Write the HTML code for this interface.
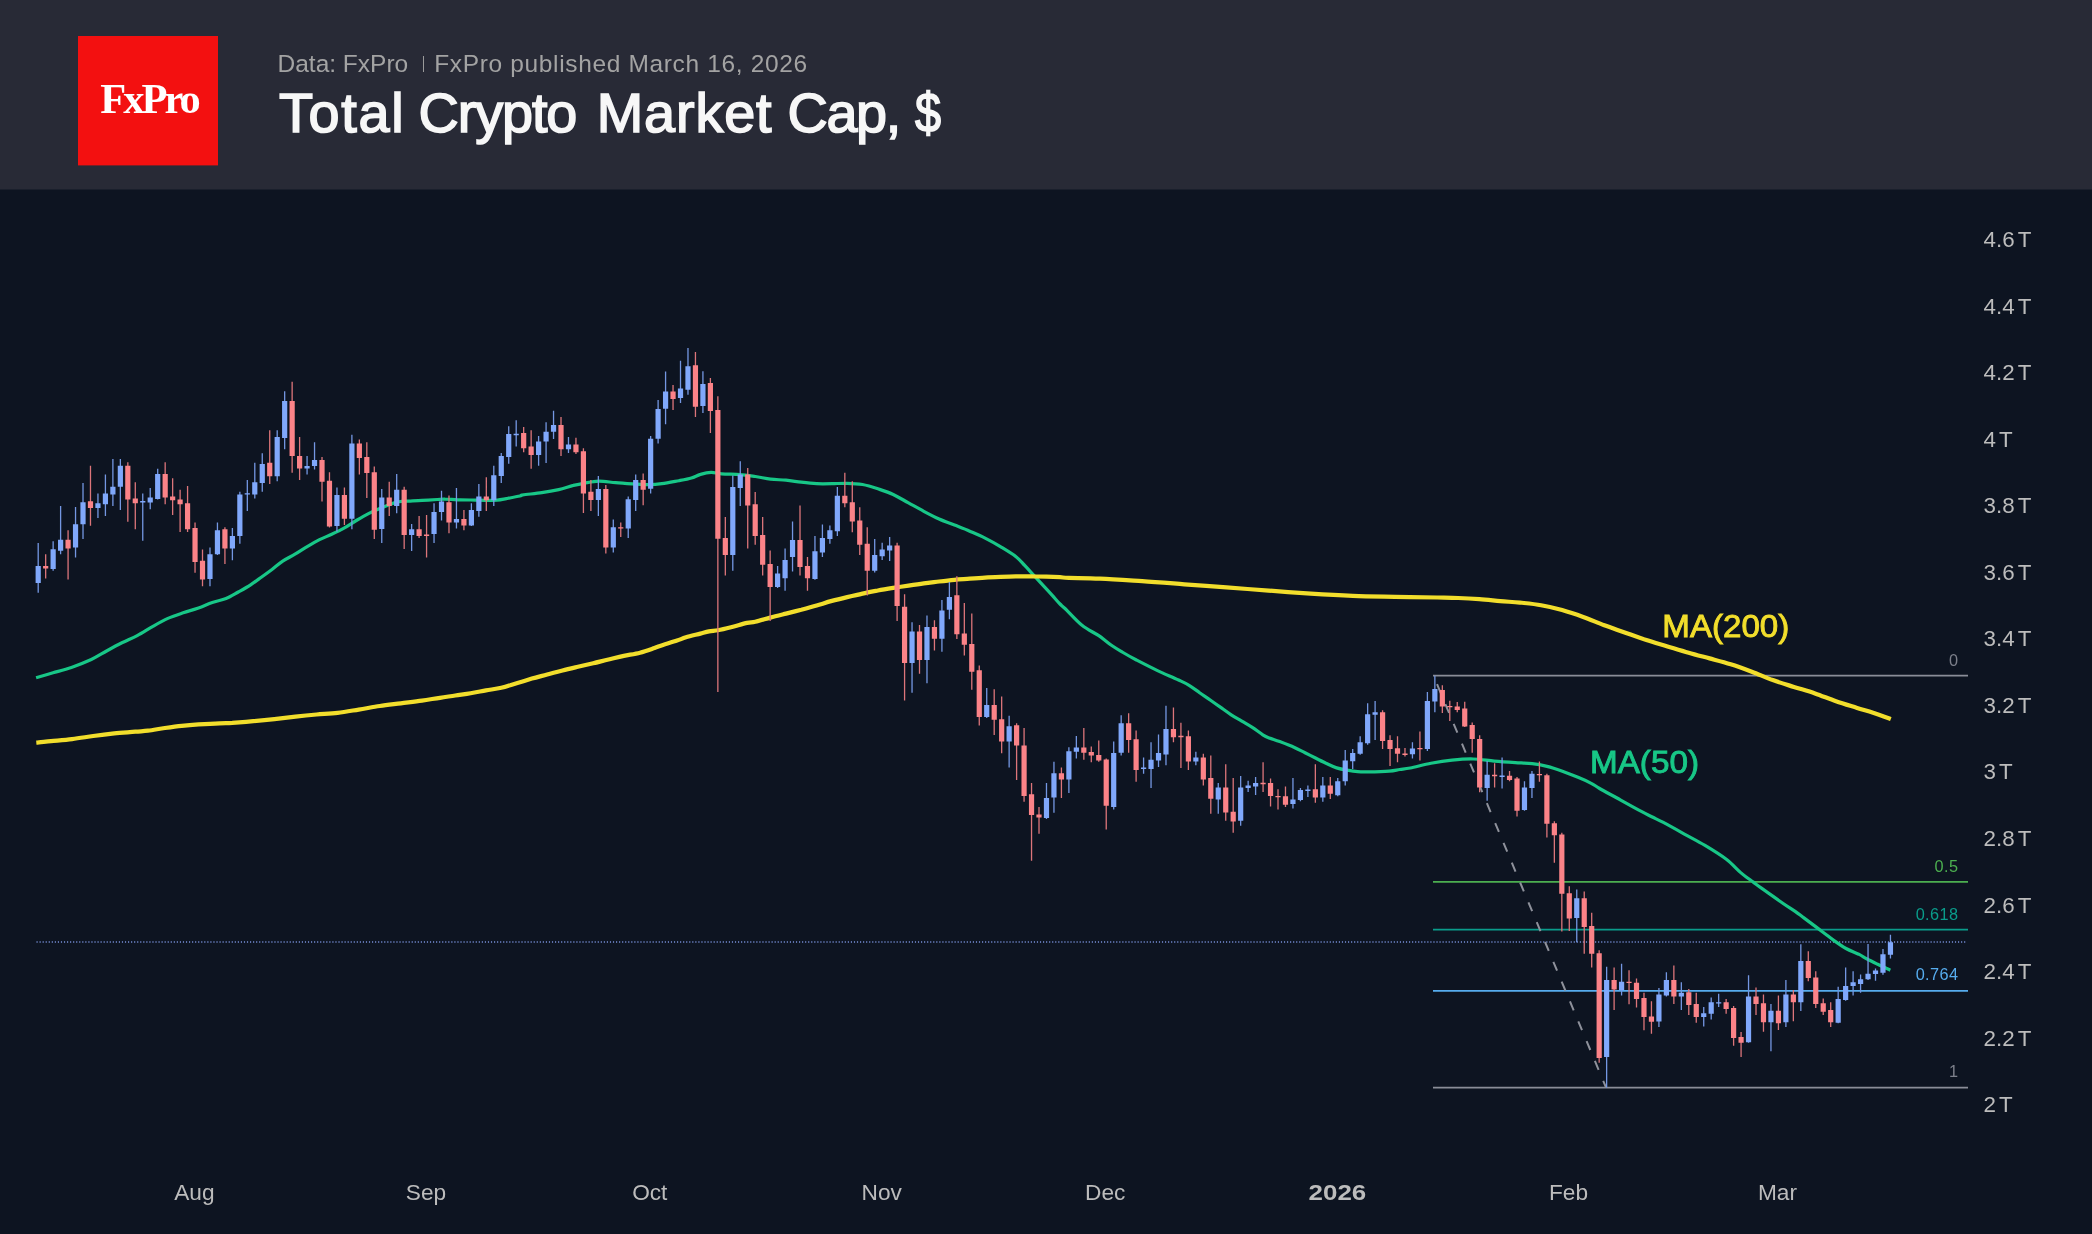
<!DOCTYPE html>
<html><head><meta charset="utf-8"><title>Total Crypto Market Cap</title>
<style>
html,body{margin:0;padding:0;}
body{width:2092px;height:1234px;background:#0d1421;overflow:hidden;position:relative;font-family:"Liberation Sans",sans-serif;}
#hdr{will-change:transform;position:absolute;left:0;top:0;width:2092px;height:189px;background:#282a36;border-bottom:1px solid #1a1f2c;}
#logo{position:absolute;left:78px;top:36px;width:140px;height:129px;background:#f31010;box-shadow:0 1px 0 rgba(243,16,16,0.4);}
#logo span{position:absolute;left:0;top:0;width:140px;text-align:center;font-family:"Liberation Serif",serif;font-weight:bold;font-size:42.5px;line-height:42px;color:#fff;top:41.7px;letter-spacing:-3px;text-indent:2px;}
#sub{position:absolute;left:277.5px;top:49.5px;font-size:24.5px;line-height:28px;color:#a3a3a3;white-space:nowrap;}
#sub i{display:inline-block;width:1px;height:16px;background:#9a9a9a;margin:0 10.5px 0 14.5px;vertical-align:0px;}
#ttl{position:absolute;left:279px;top:81px;font-size:55.8px;line-height:64px;color:#f7f7f7;white-space:nowrap;-webkit-text-stroke:1.6px #f7f7f7;}
#ttl span{position:absolute;top:0;}
svg{position:absolute;left:0;top:0;will-change:transform;}
.ax{font-family:"Liberation Sans",sans-serif;font-size:21.6px;fill:#bcbcbc;}
.fib{font-family:"Liberation Sans",sans-serif;font-size:16.3px;letter-spacing:0.4px;}
.ma{font-family:"Liberation Sans",sans-serif;font-size:31px;stroke-width:0.9px;}
</style></head>
<body>
<div id="hdr">
<div id="logo"><span>FxPro</span></div>
<div id="sub">Data: FxPro<i></i><span style="letter-spacing:0.65px">FxPro published March 16, 2026</span></div>
<div id="ttl"><span style="left:0px;letter-spacing:1.68px">Total</span><span style="left:139.5px;letter-spacing:-1.1px">Crypto</span><span style="left:317.7px;letter-spacing:0.88px">Market</span><span style="left:508.6px;letter-spacing:-1.4px">Cap,</span><span style="left:635.6px;transform:scaleX(0.84);transform-origin:0 0">$</span></div>
</div>
<svg width="2092" height="1234" viewBox="0 0 2092 1234">
<line x1="36.5" y1="942.1" x2="1966.5" y2="942.1" stroke="#5c70aa" stroke-width="2" stroke-dasharray="1.15 1.9"/>
<line x1="1433" y1="675.6" x2="1968" y2="675.6" stroke="#8a8d98" stroke-width="1.8"/>
<line x1="1433" y1="881.8" x2="1968" y2="881.8" stroke="#4caf50" stroke-width="1.8"/>
<line x1="1433" y1="929.7" x2="1968" y2="929.7" stroke="#0a9c8b" stroke-width="1.8"/>
<line x1="1433" y1="990.8" x2="1968" y2="990.8" stroke="#56acee" stroke-width="1.8"/>
<line x1="1433" y1="1087.7" x2="1968" y2="1087.7" stroke="#8a8d98" stroke-width="1.8"/>
<line x1="1433.6" y1="676" x2="1606.1" y2="1087.7" stroke="#8e919b" stroke-width="2" stroke-dasharray="9.6 11.9" stroke-dashoffset="12.6"/>
<path d="M36.1,677.8 C38.9,677.0 47.1,674.5 53.0,672.8 C58.9,671.1 65.0,669.6 71.4,667.4 C77.8,665.2 85.4,662.2 91.3,659.5 C97.2,656.8 101.5,653.8 106.6,651.0 C111.7,648.2 116.8,645.4 121.9,642.8 C127.0,640.2 132.1,638.3 137.2,635.6 C142.3,632.9 147.4,629.5 152.5,626.6 C157.6,623.7 162.8,620.7 167.9,618.4 C173.0,616.1 178.1,614.5 183.2,612.8 C188.3,611.1 193.7,609.7 198.5,608.0 C203.3,606.3 207.7,604.1 212.3,602.5 C216.9,600.9 221.7,600.4 226.0,598.6 C230.3,596.9 234.2,594.3 238.3,592.0 C242.4,589.7 246.8,587.3 250.6,584.8 C254.4,582.3 257.7,579.8 261.3,577.2 C264.9,574.7 268.4,572.2 272.0,569.5 C275.6,566.8 278.9,563.6 282.7,561.1 C286.5,558.6 290.9,556.6 295.0,554.2 C299.1,551.8 303.1,549.0 307.2,546.6 C311.3,544.2 315.4,541.8 319.5,539.7 C323.6,537.7 327.6,536.2 331.7,534.3 C335.8,532.4 339.9,530.5 344.0,528.2 C348.1,525.9 352.2,522.9 356.3,520.5 C360.4,518.1 364.7,515.6 368.5,513.6 C372.3,511.6 375.6,510.2 379.2,508.7 C382.8,507.2 386.7,505.6 390.0,504.4 C393.3,503.2 396.1,502.2 399.1,501.7 C402.2,501.1 404.5,501.3 408.3,501.1 C412.1,500.9 417.2,500.7 422.1,500.4 C427.0,500.1 433.6,499.7 437.4,499.5 C441.2,499.3 441.3,499.1 445.1,499.2 C448.9,499.2 455.3,499.6 460.4,499.8 C465.5,500.0 471.6,500.0 475.7,500.1 C479.8,500.2 481.3,500.3 484.9,500.3 C488.5,500.3 493.6,500.4 497.2,500.1 C500.8,499.8 502.6,499.3 506.4,498.6 C510.2,497.9 517.3,496.6 520.0,496.0 C522.7,495.4 519.2,495.4 522.8,494.9 C526.4,494.3 535.8,493.6 541.8,492.7 C547.8,491.8 553.4,490.8 558.7,489.6 C564.0,488.4 569.2,486.4 573.4,485.4 C577.6,484.3 579.8,484.0 584.0,483.3 C588.2,482.6 593.4,481.3 598.7,481.2 C604.0,481.1 610.0,482.2 615.6,482.6 C621.2,483.1 626.8,483.5 632.4,483.9 C638.0,484.2 644.4,484.7 649.3,484.7 C654.2,484.7 657.0,484.4 661.9,483.7 C666.8,483.0 673.9,481.6 678.8,480.7 C683.7,479.8 687.8,479.1 691.4,478.0 C695.0,476.9 697.2,475.3 700.5,474.4 C703.8,473.4 707.6,472.4 711.1,472.3 C714.6,472.2 716.8,473.4 721.6,473.8 C726.4,474.2 734.4,474.2 740.0,474.6 C745.6,475.1 750.2,475.8 755.3,476.5 C760.4,477.2 765.5,478.5 770.6,479.1 C775.7,479.7 780.9,479.7 786.0,480.2 C791.1,480.7 796.2,481.6 801.3,482.2 C806.4,482.8 811.5,483.4 816.6,483.7 C821.7,483.9 826.8,483.8 831.9,483.7 C837.0,483.6 842.1,483.2 847.2,483.3 C852.3,483.4 857.4,483.6 862.5,484.5 C867.6,485.4 872.8,487.1 877.9,488.8 C883.0,490.5 888.1,492.1 893.2,494.5 C898.3,496.9 903.4,500.1 908.5,502.9 C913.6,505.7 918.7,508.6 923.8,511.3 C928.9,514.0 934.0,516.7 939.1,519.0 C944.2,521.3 949.4,523.1 954.5,525.1 C959.6,527.1 964.7,529.0 969.8,531.2 C974.9,533.4 980.0,535.5 985.1,538.1 C990.2,540.7 995.3,543.5 1000.4,546.6 C1005.5,549.7 1011.6,553.3 1015.7,556.5 C1019.8,559.7 1021.8,562.5 1024.9,565.7 C1028.0,568.9 1031.0,572.4 1034.1,575.7 C1037.2,579.0 1040.2,582.3 1043.3,585.6 C1046.4,588.9 1049.7,592.5 1052.5,595.6 C1055.3,598.7 1057.9,601.9 1060.0,604.0 C1062.1,606.1 1061.3,605.0 1065.0,608.5 C1068.7,612.0 1076.4,620.8 1082.0,625.3 C1087.6,629.8 1093.9,632.4 1098.8,635.7 C1103.7,639.0 1107.4,642.5 1111.4,645.3 C1115.4,648.1 1118.8,650.0 1123.0,652.5 C1127.2,655.0 1130.7,657.0 1136.4,660.0 C1142.2,663.0 1150.5,667.3 1157.5,670.6 C1164.5,673.9 1173.3,677.5 1178.6,680.0 C1183.9,682.5 1185.6,683.2 1189.1,685.3 C1192.6,687.4 1196.1,690.2 1199.6,692.7 C1203.1,695.2 1206.7,697.5 1210.2,700.0 C1213.7,702.5 1217.2,704.9 1220.7,707.4 C1224.2,709.9 1227.7,712.5 1231.2,714.8 C1234.7,717.1 1238.3,719.0 1241.8,721.1 C1245.3,723.2 1248.8,725.1 1252.3,727.4 C1255.8,729.7 1260.0,733.0 1262.8,734.8 C1265.6,736.6 1266.4,736.9 1269.2,738.0 C1272.0,739.1 1275.5,740.0 1279.7,741.6 C1283.9,743.2 1290.2,745.6 1294.4,747.5 C1298.6,749.4 1301.5,751.0 1305.0,752.7 C1308.5,754.5 1312.0,756.2 1315.5,758.0 C1319.0,759.8 1322.5,761.6 1326.0,763.3 C1329.5,764.9 1333.1,766.8 1336.6,767.9 C1340.1,769.0 1343.6,769.6 1347.1,770.2 C1350.6,770.8 1354.2,771.4 1357.7,771.7 C1361.2,772.0 1362.9,772.0 1368.2,771.9 C1373.5,771.8 1384.0,771.5 1389.3,771.1 C1394.6,770.7 1396.3,770.0 1399.8,769.5 C1403.3,769.0 1405.1,769.0 1410.3,768.0 C1415.5,767.0 1424.0,764.5 1431.0,763.2 C1438.0,761.9 1445.0,760.8 1452.0,760.1 C1459.0,759.4 1466.2,758.8 1473.2,759.0 C1480.2,759.2 1487.3,760.5 1494.3,761.1 C1501.3,761.7 1509.1,762.2 1515.4,762.6 C1521.7,763.0 1526.9,763.1 1532.2,763.7 C1537.5,764.3 1542.1,765.2 1547.0,766.4 C1551.9,767.6 1556.4,769.1 1561.7,771.0 C1567.0,772.9 1573.7,775.6 1578.6,777.6 C1583.5,779.6 1587.7,781.5 1591.2,783.3 C1594.7,785.1 1594.7,785.7 1599.6,788.5 C1604.5,791.3 1613.7,796.2 1620.7,800.1 C1627.7,804.0 1636.5,808.9 1641.8,811.7 C1647.1,814.5 1648.8,815.2 1652.3,817.0 C1655.8,818.8 1657.5,819.4 1662.8,822.2 C1668.1,825.0 1676.9,829.9 1683.9,833.8 C1690.9,837.7 1698.0,841.2 1705.0,845.4 C1712.0,849.6 1720.0,854.5 1726.0,859.0 C1732.0,863.5 1736.2,868.8 1740.7,872.6 C1745.2,876.5 1749.8,879.5 1753.3,882.1 C1756.8,884.7 1756.9,884.9 1761.8,888.4 C1766.7,891.9 1777.2,899.3 1782.8,903.2 C1788.4,907.1 1792.0,909.2 1795.5,911.6 C1799.0,914.0 1800.4,915.3 1803.9,917.9 C1807.4,920.5 1813.1,924.8 1816.6,927.4 C1820.1,930.0 1822.2,931.6 1825.0,933.7 C1827.8,935.8 1829.9,937.6 1833.4,940.1 C1836.9,942.6 1841.8,946.1 1846.0,948.5 C1850.2,950.9 1855.2,952.5 1858.7,954.2 C1862.2,956.0 1863.9,957.3 1867.1,959.0 C1870.3,960.7 1873.8,962.4 1877.7,964.3 C1881.6,966.2 1888.2,969.2 1890.3,970.2" fill="none" stroke="#18c787" stroke-width="3.2" stroke-linejoin="round" stroke-linecap="butt"/>
<path d="M36.3,742.7 C38.8,742.5 45.0,741.8 51.0,741.2 C57.0,740.6 65.1,740.0 72.1,739.1 C79.1,738.2 86.2,737.0 93.2,736.0 C100.2,735.0 107.3,734.1 114.3,733.4 C121.3,732.7 129.8,732.2 135.4,731.7 C141.0,731.2 143.1,731.3 148.0,730.7 C152.9,730.1 159.3,728.8 164.9,728.0 C170.5,727.2 176.1,726.4 181.7,725.8 C187.3,725.2 192.3,724.8 198.6,724.4 C204.9,724.0 214.0,723.5 219.6,723.3 C225.2,723.0 226.7,723.2 232.3,722.9 C237.9,722.5 246.3,721.8 253.3,721.2 C260.3,720.6 267.4,719.9 274.4,719.1 C281.4,718.3 288.5,717.4 295.5,716.6 C302.5,715.8 309.6,715.1 316.6,714.5 C323.6,713.9 330.6,713.6 337.6,712.8 C344.6,712.0 351.7,710.7 358.7,709.6 C365.7,708.5 372.8,707.0 379.8,706.0 C386.8,705.0 393.8,704.2 400.8,703.3 C407.8,702.4 415.4,701.5 421.9,700.6 C428.4,699.7 434.4,698.6 440.0,697.8 C445.6,696.9 450.2,696.3 455.3,695.5 C460.4,694.7 465.5,694.1 470.6,693.2 C475.7,692.4 480.9,691.3 486.0,690.4 C491.1,689.5 496.2,689.0 501.3,687.8 C506.4,686.6 511.5,684.7 516.6,683.2 C521.7,681.7 526.8,680.1 531.9,678.6 C537.0,677.1 542.1,675.9 547.2,674.5 C552.3,673.1 557.4,671.8 562.5,670.5 C567.6,669.2 572.8,668.0 577.9,666.8 C583.0,665.6 588.1,664.5 593.2,663.3 C598.3,662.1 603.4,660.7 608.5,659.5 C613.6,658.3 618.5,657.0 623.8,655.9 C629.0,654.8 634.9,654.0 640.0,652.7 C645.1,651.4 650.7,649.3 654.5,648.0 C658.3,646.7 659.2,646.1 663.0,644.9 C666.8,643.7 673.2,641.9 677.0,640.6 C680.8,639.3 682.1,638.5 686.0,637.3 C689.9,636.1 696.6,634.6 700.4,633.6 C704.2,632.6 706.1,632.0 709.0,631.4 C711.9,630.8 714.3,630.9 718.0,630.2 C721.7,629.5 726.2,628.4 731.0,627.2 C735.8,626.0 743.0,623.8 747.0,622.9 C751.0,622.0 751.4,622.7 755.3,621.8 C759.2,620.9 765.2,619.0 770.3,617.6 C775.4,616.2 780.8,614.9 786.0,613.6 C791.2,612.3 796.2,611.1 801.3,609.8 C806.4,608.4 811.5,607.0 816.6,605.5 C821.7,604.0 826.8,602.3 831.9,600.9 C837.0,599.5 842.1,598.3 847.2,597.1 C852.3,595.9 857.4,594.7 862.5,593.6 C867.6,592.5 872.8,591.5 877.9,590.5 C883.0,589.5 888.1,588.7 893.2,587.9 C898.3,587.1 903.4,586.4 908.5,585.6 C913.6,584.8 918.7,584.0 923.8,583.3 C928.9,582.6 934.0,582.1 939.1,581.5 C944.2,580.9 949.4,580.3 954.5,579.8 C959.6,579.3 964.7,579.1 969.8,578.7 C974.9,578.3 980.0,577.9 985.1,577.6 C990.2,577.3 995.3,577.1 1000.4,576.9 C1005.5,576.7 1010.6,576.5 1015.7,576.4 C1020.8,576.3 1026.0,576.3 1031.1,576.4 C1036.2,576.5 1041.6,576.6 1046.4,576.7 C1051.2,576.8 1056.2,577.0 1060.0,577.2 C1063.8,577.4 1062.3,577.7 1069.0,577.9 C1075.7,578.1 1087.8,578.1 1100.0,578.6 C1112.2,579.1 1128.0,580.2 1142.1,581.1 C1156.1,582.0 1170.2,583.2 1184.3,584.3 C1198.3,585.3 1212.4,586.3 1226.4,587.4 C1240.5,588.5 1254.5,589.5 1268.6,590.6 C1282.6,591.7 1296.7,592.8 1310.7,593.7 C1324.7,594.6 1338.8,595.4 1352.8,595.9 C1366.8,596.4 1381.0,596.6 1395.0,596.9 C1409.0,597.2 1426.6,597.3 1437.1,597.5 C1447.6,597.7 1451.2,597.7 1458.2,598.0 C1465.2,598.3 1472.3,598.7 1479.3,599.2 C1486.3,599.7 1493.5,600.5 1500.3,601.1 C1507.1,601.7 1513.2,601.9 1520.0,602.6 C1526.8,603.3 1534.1,604.0 1541.1,605.2 C1548.1,606.4 1555.1,608.0 1562.1,610.0 C1569.1,612.0 1576.2,614.4 1583.2,616.9 C1590.2,619.4 1597.3,622.7 1604.3,625.3 C1611.3,627.9 1618.4,630.2 1625.4,632.7 C1632.4,635.2 1639.4,637.8 1646.4,640.1 C1653.4,642.4 1660.5,644.3 1667.5,646.4 C1674.5,648.5 1681.6,650.7 1688.6,652.7 C1695.6,654.7 1702.6,656.5 1709.6,658.4 C1716.6,660.3 1723.7,662.1 1730.7,664.3 C1737.7,666.5 1744.8,669.1 1751.8,671.7 C1758.8,674.3 1765.8,677.6 1772.8,680.1 C1779.8,682.6 1786.9,684.7 1793.9,686.9 C1800.9,689.1 1808.0,691.0 1815.0,693.4 C1822.0,695.8 1829.0,698.8 1836.0,701.2 C1843.0,703.6 1850.1,705.7 1857.1,707.9 C1864.1,710.1 1872.6,712.6 1878.2,714.5 C1883.8,716.4 1888.7,718.3 1890.8,719.1" fill="none" stroke="#f2de2c" stroke-width="4.2" stroke-linejoin="round" stroke-linecap="butt"/>
<path d="M38.20,542.9V592.8M53.14,541.2V570.7M60.61,506.0V554.3M75.54,507.1V557.4M83.01,483.1V539.1M97.95,493.6V518.0M105.42,474.4V515.9M112.89,459.0V506.0M120.36,459.0V510.0M142.76,493.6V540.8M150.23,487.9V509.2M157.70,468.7V499.5M209.98,547.5V586.3M217.45,522.5V555.1M232.39,528.1V560.2M239.86,491.7V543.7M247.32,480.1V510.9M254.79,462.8V498.4M262.26,453.3V491.7M277.20,430.2V481.2M284.67,391.2V449.3M307.07,455.9V474.4M314.54,442.2V469.6M336.95,487.5V531.7M351.89,434.8V529.2M381.76,489.0V542.9M396.70,474.0V513.2M411.64,524.1V550.9M434.04,503.3V542.9M441.51,490.8V520.6M456.45,487.9V528.6M471.39,503.3V526.0M478.86,483.9V516.8M493.79,465.8V506.0M501.26,453.1V483.1M508.73,426.2V463.7M516.20,420.3V446.4M538.61,435.9V465.8M546.08,422.2V463.0M553.54,410.8V439.0M568.48,436.9V452.9M598.36,476.1V515.9M613.29,519.5V552.4M628.23,496.5V538.0M635.70,474.4V510.9M650.64,435.9V493.6M658.11,400.0V443.6M665.58,371.4V424.3M680.51,360.7V403.1M687.98,348.0V394.8M702.92,371.3V412.9M732.79,475.5V570.7M740.26,461.2V506.0M777.61,565.9V588.0M785.08,548.6V590.7M792.54,521.6V571.6M814.95,536.0V579.8M822.42,524.6V557.0M829.89,525.4V543.8M837.36,487.1V536.0M874.70,538.9V572.6M882.17,542.7V560.0M889.64,537.0V561.0M912.04,622.2V692.7M926.98,615.4V683.3M941.92,600.0V651.7M949.39,581.9V619.2M986.73,688.1V718.0M1009.14,715.7V767.5M1046.48,782.9V819.1M1053.95,761.8V812.8M1068.89,747.2V793.0M1076.36,735.9V758.4M1113.70,741.6V809.6M1121.17,715.2V755.5M1143.58,757.6V773.8M1151.04,742.2V788.1M1158.51,734.4V767.1M1165.98,705.7V765.2M1195.86,751.7V765.2M1218.26,782.9V813.8M1240.67,775.9V825.8M1248.14,780.8V792.1M1255.61,777.0V794.9M1292.95,778.0V808.6M1300.42,788.1V801.2M1307.89,785.4V797.0M1322.83,777.0V801.8M1337.76,778.0V796.3M1345.23,750.0V785.4M1352.70,749.1V769.0M1360.17,736.3V754.8M1367.64,703.2V744.7M1375.11,700.9V740.1M1412.45,742.2V758.6M1427.39,692.0V751.0M1434.86,675.8V712.3M1487.14,761.1V800.8M1502.08,757.6V788.5M1524.48,781.2V810.7M1531.95,771.0V798.0M1576.76,889.5V942.2M1606.64,966.8V1087.6M1621.58,963.7V995.5M1658.92,987.9V1027.1M1666.39,972.3V996.5M1681.33,982.2V1010.0M1703.73,1007.1V1026.5M1711.20,997.4V1019.5M1718.67,993.8V1007.1M1748.54,975.3V1042.7M1770.95,1003.9V1051.3M1785.89,980.1V1027.1M1800.83,944.3V1011.1M1838.17,986.8V1023.3M1845.64,967.5V1000.8M1853.11,971.3V995.5M1860.58,974.4V992.7M1868.04,944.1V980.1M1875.51,968.5V980.7M1882.98,949.1V974.8M1890.45,934.8V958.6" stroke="#7497e2" stroke-width="1.3" fill="none"/>
<path d="M45.67,554.3V578.5M68.08,530.2V579.6M90.48,465.8V525.8M127.83,462.2V521.8M135.29,482.2V529.2M165.17,462.2V504.3M172.64,478.2V514.9M180.11,489.8V532.1M187.57,486.0V532.1M195.04,522.5V572.8M202.51,549.4V586.3M224.92,527.3V564.0M269.73,430.2V483.9M292.14,381.7V472.7M299.61,436.9V480.1M322.01,456.9V501.6M329.48,472.3V527.5M344.42,487.5V525.0M359.36,439.6V474.4M366.82,442.2V498.0M374.29,466.4V539.1M389.23,481.8V515.9M404.17,486.8V549.0M419.11,515.9V538.0M426.57,514.9V557.4M448.98,495.5V533.2M463.92,510.0V530.2M486.32,477.2V510.9M523.67,427.0V452.3M531.14,430.2V468.7M561.01,417.1V456.1M575.95,437.7V454.0M583.42,448.3V513.0M590.89,480.1V510.9M605.83,484.9V553.4M620.76,522.5V537.0M643.17,473.4V505.2M673.04,384.9V410.0M695.45,351.9V416.9M710.39,378.1V432.9M717.86,396.2V691.9M725.33,517.0V575.4M747.73,468.1V548.6M755.20,491.9V544.8M762.67,517.0V575.4M770.14,550.5V621.1M800.01,505.4V575.4M807.48,557.0V590.7M844.83,472.7V507.3M852.29,481.2V532.2M859.76,507.3V555.1M867.23,527.3V595.6M897.11,542.7V621.1M904.58,594.3V700.5M919.51,624.9V673.8M934.45,620.3V650.6M956.86,576.2V639.0M964.33,603.0V655.4M971.79,613.5V689.8M979.26,665.4V725.4M994.20,689.2V735.1M1001.67,696.5V753.2M1016.61,723.2V780.1M1024.08,728.1V801.8M1031.54,782.9V860.8M1039.01,806.9V833.8M1061.42,767.5V798.0M1083.83,728.1V759.7M1091.29,746.4V762.2M1098.76,740.5V761.8M1106.23,758.4V829.6M1128.64,713.3V752.7M1136.11,730.6V781.8M1173.45,707.4V742.2M1180.92,722.8V767.9M1188.39,730.6V770.0M1203.33,753.8V785.4M1210.79,755.5V813.8M1225.73,764.3V820.8M1233.20,778.0V832.8M1263.08,762.2V792.1M1270.54,778.6V806.5M1278.01,789.2V809.6M1285.48,786.4V806.9M1315.36,764.3V802.7M1330.29,777.0V799.1M1382.58,710.2V748.9M1390.04,735.2V766.0M1397.51,736.3V762.2M1404.98,748.1V756.5M1419.92,731.6V760.5M1442.33,685.3V713.1M1449.79,700.7V721.1M1457.26,702.1V712.3M1464.73,701.7V727.0M1472.20,722.6V752.7M1479.67,735.2V792.3M1494.61,763.2V787.5M1509.54,771.0V781.2M1517.01,776.9V816.6M1539.42,761.6V781.8M1546.89,773.8V837.4M1554.36,821.2V862.7M1561.83,832.8V931.6M1569.29,886.3V931.0M1584.23,891.6V953.8M1591.70,912.7V967.5M1599.17,950.2V1062.7M1614.11,967.5V1010.0M1629.04,970.2V1004.3M1636.51,978.4V1007.5M1643.98,992.7V1030.2M1651.45,1001.2V1033.8M1673.86,965.4V1004.1M1688.79,989.0V1014.9M1696.26,992.7V1022.7M1726.14,999.1V1013.8M1733.61,1006.0V1045.8M1741.08,1032.1V1057.0M1756.01,987.5V1014.9M1763.48,994.4V1031.7M1778.42,995.5V1030.0M1793.36,990.0V1021.2M1808.29,951.2V981.2M1815.76,971.3V1008.1M1823.23,998.4V1014.9M1830.70,1002.2V1027.1" stroke="#dc757a" stroke-width="1.3" fill="none"/>
<path d="M35.60,566.1h5.2V582.9h-5.2zM50.54,549.2h5.2V569.0h-5.2zM58.01,539.7h5.2V550.7h-5.2zM72.94,524.3h5.2V547.5h-5.2zM80.41,502.2h5.2V524.3h-5.2zM95.35,503.3h5.2V508.1h-5.2zM102.82,493.6h5.2V504.3h-5.2zM110.29,486.8h5.2V494.4h-5.2zM117.76,465.8h5.2V486.8h-5.2zM140.16,501.1h5.2V502.5h-5.2zM147.63,497.4h5.2V502.4h-5.2zM155.10,474.0h5.2V499.1h-5.2zM207.38,554.3h5.2V579.1h-5.2zM214.85,530.2h5.2V554.3h-5.2zM229.79,535.9h5.2V548.6h-5.2zM237.26,494.6h5.2V535.9h-5.2zM244.72,493.2h5.2V494.6h-5.2zM252.19,482.2h5.2V494.6h-5.2zM259.66,463.9h5.2V483.1h-5.2zM274.60,436.9h5.2V476.3h-5.2zM282.07,401.1h5.2V438.0h-5.2zM304.47,466.0h5.2V468.5h-5.2zM311.94,460.1h5.2V466.0h-5.2zM334.35,494.9h5.2V526.0h-5.2zM349.29,443.6h5.2V518.7h-5.2zM379.16,497.4h5.2V529.0h-5.2zM394.10,489.8h5.2V506.0h-5.2zM409.04,529.2h5.2V534.9h-5.2zM431.44,511.9h5.2V534.0h-5.2zM438.91,501.4h5.2V511.9h-5.2zM453.85,519.1h5.2V522.5h-5.2zM468.79,510.0h5.2V525.4h-5.2zM476.26,496.5h5.2V510.9h-5.2zM491.19,475.3h5.2V500.3h-5.2zM498.66,456.1h5.2V476.1h-5.2zM506.13,434.0h5.2V456.9h-5.2zM513.60,433.8h5.2V435.2h-5.2zM536.01,441.5h5.2V455.0h-5.2zM543.48,431.8h5.2V441.5h-5.2zM550.94,425.1h5.2V431.8h-5.2zM565.88,444.5h5.2V449.3h-5.2zM595.76,489.0h5.2V500.1h-5.2zM610.69,527.3h5.2V547.5h-5.2zM625.63,499.3h5.2V528.4h-5.2zM633.10,480.1h5.2V500.1h-5.2zM648.04,438.8h5.2V488.7h-5.2zM655.51,408.9h5.2V438.8h-5.2zM662.98,391.4h5.2V408.8h-5.2zM677.91,388.5h5.2V398.1h-5.2zM685.38,366.2h5.2V389.7h-5.2zM700.32,384.0h5.2V406.0h-5.2zM730.19,487.1h5.2V555.1h-5.2zM737.66,474.6h5.2V487.9h-5.2zM775.01,573.5h5.2V586.9h-5.2zM782.48,560.0h5.2V578.3h-5.2zM789.94,540.0h5.2V557.0h-5.2zM812.35,551.3h5.2V579.1h-5.2zM819.82,537.9h5.2V552.4h-5.2zM827.29,530.3h5.2V538.9h-5.2zM834.76,495.7h5.2V531.3h-5.2zM872.10,555.1h5.2V570.7h-5.2zM879.57,549.4h5.2V556.2h-5.2zM887.04,545.6h5.2V550.5h-5.2zM909.44,631.6h5.2V663.0h-5.2zM924.38,627.0h5.2V660.1h-5.2zM939.32,610.6h5.2V638.8h-5.2zM946.79,597.1h5.2V609.7h-5.2zM984.13,705.0h5.2V717.0h-5.2zM1006.54,726.2h5.2V741.6h-5.2zM1043.88,798.0h5.2V818.0h-5.2zM1051.35,773.2h5.2V797.6h-5.2zM1066.29,751.3h5.2V779.5h-5.2zM1073.76,747.5h5.2V751.7h-5.2zM1111.10,753.1h5.2V806.9h-5.2zM1118.57,723.2h5.2V752.7h-5.2zM1140.98,767.5h5.2V769.0h-5.2zM1148.44,759.7h5.2V769.0h-5.2zM1155.91,753.1h5.2V760.5h-5.2zM1163.38,728.9h5.2V754.6h-5.2zM1193.26,757.6h5.2V761.6h-5.2zM1215.66,787.5h5.2V799.5h-5.2zM1238.07,787.5h5.2V820.8h-5.2zM1245.54,785.4h5.2V788.1h-5.2zM1253.01,782.9h5.2V786.4h-5.2zM1290.35,799.5h5.2V803.9h-5.2zM1297.82,790.0h5.2V800.1h-5.2zM1305.29,789.5h5.2V790.9h-5.2zM1320.23,785.4h5.2V797.6h-5.2zM1335.16,781.2h5.2V795.3h-5.2zM1342.63,760.5h5.2V781.2h-5.2zM1350.10,753.1h5.2V761.2h-5.2zM1357.57,742.2h5.2V753.8h-5.2zM1365.04,714.2h5.2V743.2h-5.2zM1372.51,712.3h5.2V714.8h-5.2zM1409.85,748.5h5.2V754.2h-5.2zM1424.79,701.1h5.2V748.9h-5.2zM1432.26,689.1h5.2V701.5h-5.2zM1484.54,774.8h5.2V787.9h-5.2zM1499.48,775.5h5.2V776.9h-5.2zM1521.88,787.5h5.2V810.0h-5.2zM1529.35,773.8h5.2V787.9h-5.2zM1574.16,898.3h5.2V917.9h-5.2zM1604.04,980.1h5.2V1057.0h-5.2zM1618.98,981.8h5.2V990.2h-5.2zM1656.32,994.4h5.2V1021.6h-5.2zM1663.79,980.1h5.2V995.5h-5.2zM1678.73,992.7h5.2V996.5h-5.2zM1701.13,1013.2h5.2V1017.0h-5.2zM1708.60,1002.2h5.2V1013.8h-5.2zM1716.07,1002.2h5.2V1003.6h-5.2zM1745.94,996.5h5.2V1042.3h-5.2zM1768.35,1010.7h5.2V1022.2h-5.2zM1783.29,994.4h5.2V1022.2h-5.2zM1798.23,961.1h5.2V1002.2h-5.2zM1835.57,999.1h5.2V1022.7h-5.2zM1843.04,986.0h5.2V1000.1h-5.2zM1850.51,982.2h5.2V986.0h-5.2zM1857.98,979.3h5.2V983.9h-5.2zM1865.44,973.8h5.2V979.3h-5.2zM1872.91,970.6h5.2V974.0h-5.2zM1880.38,954.2h5.2V972.7h-5.2zM1887.85,942.2h5.2V954.8h-5.2z" fill="#80a8fb"/>
<path d="M43.07,566.1h5.2V568.6h-5.2zM65.48,539.7h5.2V548.6h-5.2zM87.88,501.2h5.2V508.1h-5.2zM125.23,465.8h5.2V499.5h-5.2zM132.69,498.4h5.2V503.3h-5.2zM162.57,474.0h5.2V497.6h-5.2zM170.04,496.5h5.2V500.3h-5.2zM177.51,499.5h5.2V504.3h-5.2zM184.97,503.3h5.2V529.2h-5.2zM192.44,528.1h5.2V561.9h-5.2zM199.91,560.8h5.2V579.6h-5.2zM222.32,529.2h5.2V548.6h-5.2zM267.13,462.8h5.2V476.3h-5.2zM289.54,401.1h5.2V455.9h-5.2zM297.01,455.9h5.2V468.5h-5.2zM319.41,460.1h5.2V481.8h-5.2zM326.88,480.7h5.2V526.5h-5.2zM341.82,494.9h5.2V518.7h-5.2zM356.76,443.6h5.2V458.0h-5.2zM364.22,456.9h5.2V473.1h-5.2zM371.69,472.3h5.2V529.8h-5.2zM386.63,497.4h5.2V506.0h-5.2zM401.57,489.8h5.2V534.9h-5.2zM416.51,529.2h5.2V536.1h-5.2zM423.97,534.6h5.2V536.0h-5.2zM446.38,502.2h5.2V522.5h-5.2zM461.32,519.1h5.2V525.4h-5.2zM483.72,496.5h5.2V500.3h-5.2zM521.07,433.1h5.2V448.3h-5.2zM528.54,446.4h5.2V455.0h-5.2zM558.41,425.1h5.2V449.3h-5.2zM573.35,444.5h5.2V452.3h-5.2zM580.82,451.2h5.2V493.6h-5.2zM588.29,491.7h5.2V500.1h-5.2zM603.23,489.0h5.2V547.5h-5.2zM618.16,527.2h5.2V528.6h-5.2zM640.57,480.1h5.2V489.8h-5.2zM670.44,391.4h5.2V399.1h-5.2zM692.85,365.3h5.2V406.8h-5.2zM707.79,383.0h5.2V410.9h-5.2zM715.26,410.0h5.2V538.7h-5.2zM722.73,537.9h5.2V555.1h-5.2zM745.13,474.6h5.2V505.4h-5.2zM752.60,504.3h5.2V536.0h-5.2zM760.07,535.1h5.2V564.8h-5.2zM767.54,564.0h5.2V586.9h-5.2zM797.41,540.0h5.2V566.9h-5.2zM804.88,565.9h5.2V578.3h-5.2zM842.23,495.7h5.2V503.3h-5.2zM849.69,502.2h5.2V521.6h-5.2zM857.16,520.6h5.2V544.8h-5.2zM864.63,543.8h5.2V570.7h-5.2zM894.51,545.6h5.2V605.9h-5.2zM901.98,606.8h5.2V663.0h-5.2zM916.91,631.6h5.2V660.1h-5.2zM931.85,627.0h5.2V638.8h-5.2zM954.26,595.2h5.2V634.2h-5.2zM961.73,633.5h5.2V644.7h-5.2zM969.19,644.1h5.2V671.7h-5.2zM976.66,670.2h5.2V717.0h-5.2zM991.60,705.0h5.2V719.7h-5.2zM999.07,719.3h5.2V741.6h-5.2zM1014.01,725.3h5.2V745.4h-5.2zM1021.48,745.4h5.2V795.9h-5.2zM1028.94,794.2h5.2V814.9h-5.2zM1036.41,814.5h5.2V817.6h-5.2zM1058.82,773.2h5.2V779.5h-5.2zM1081.23,747.5h5.2V752.7h-5.2zM1088.69,752.1h5.2V755.5h-5.2zM1096.16,755.0h5.2V760.5h-5.2zM1103.63,759.5h5.2V805.8h-5.2zM1126.04,723.2h5.2V739.9h-5.2zM1133.51,739.2h5.2V770.0h-5.2zM1170.85,728.9h5.2V737.3h-5.2zM1178.32,735.8h5.2V737.2h-5.2zM1185.79,736.3h5.2V761.6h-5.2zM1200.73,757.6h5.2V779.5h-5.2zM1208.19,778.0h5.2V798.7h-5.2zM1223.13,787.5h5.2V812.4h-5.2zM1230.60,811.7h5.2V821.6h-5.2zM1260.48,782.8h5.2V784.2h-5.2zM1267.94,782.9h5.2V795.9h-5.2zM1275.41,795.9h5.2V797.3h-5.2zM1282.88,796.3h5.2V804.8h-5.2zM1312.76,789.2h5.2V797.6h-5.2zM1327.69,785.4h5.2V793.8h-5.2zM1379.98,712.3h5.2V741.1h-5.2zM1387.44,740.1h5.2V748.9h-5.2zM1394.91,748.3h5.2V753.8h-5.2zM1402.38,753.5h5.2V754.9h-5.2zM1417.32,747.9h5.2V749.3h-5.2zM1439.73,690.1h5.2V706.4h-5.2zM1447.19,705.9h5.2V707.3h-5.2zM1454.66,706.4h5.2V710.1h-5.2zM1462.13,708.5h5.2V726.6h-5.2zM1469.60,724.9h5.2V739.0h-5.2zM1477.07,739.0h5.2V787.5h-5.2zM1492.01,774.8h5.2V776.2h-5.2zM1506.94,775.7h5.2V780.1h-5.2zM1514.41,778.6h5.2V810.7h-5.2zM1536.82,773.9h5.2V775.3h-5.2zM1544.29,775.3h5.2V823.7h-5.2zM1551.76,823.3h5.2V835.3h-5.2zM1559.23,834.5h5.2V893.7h-5.2zM1566.69,893.3h5.2V918.4h-5.2zM1581.63,898.3h5.2V927.0h-5.2zM1589.10,926.0h5.2V953.8h-5.2zM1596.57,953.3h5.2V1058.1h-5.2zM1611.51,980.1h5.2V989.6h-5.2zM1626.44,981.7h5.2V983.1h-5.2zM1633.91,982.8h5.2V999.1h-5.2zM1641.38,998.0h5.2V1017.0h-5.2zM1648.85,1016.6h5.2V1021.8h-5.2zM1671.26,980.1h5.2V996.5h-5.2zM1686.19,992.3h5.2V1005.0h-5.2zM1693.66,1003.9h5.2V1017.0h-5.2zM1723.54,1002.2h5.2V1009.0h-5.2zM1731.01,1007.9h5.2V1038.0h-5.2zM1738.48,1037.0h5.2V1042.7h-5.2zM1753.41,996.5h5.2V1003.9h-5.2zM1760.88,1003.3h5.2V1022.2h-5.2zM1775.82,1010.7h5.2V1023.3h-5.2zM1790.76,994.4h5.2V1002.2h-5.2zM1805.69,961.1h5.2V978.0h-5.2zM1813.16,977.4h5.2V1003.9h-5.2zM1820.63,1003.3h5.2V1011.7h-5.2zM1828.10,1010.0h5.2V1022.2h-5.2z" fill="#fb8388"/>
<text transform="translate(1983.6,247.2) scale(1.037,1)" x="0" y="0" class="ax">4.6<tspan dx="2.9">T</tspan></text>
<text transform="translate(1983.6,313.7) scale(1.037,1)" x="0" y="0" class="ax">4.4<tspan dx="2.9">T</tspan></text>
<text transform="translate(1983.6,380.3) scale(1.037,1)" x="0" y="0" class="ax">4.2<tspan dx="2.9">T</tspan></text>
<text transform="translate(1983.6,446.8) scale(1.037,1)" x="0" y="0" class="ax">4<tspan dx="2.9">T</tspan></text>
<text transform="translate(1983.6,513.3) scale(1.037,1)" x="0" y="0" class="ax">3.8<tspan dx="2.9">T</tspan></text>
<text transform="translate(1983.6,579.8) scale(1.037,1)" x="0" y="0" class="ax">3.6<tspan dx="2.9">T</tspan></text>
<text transform="translate(1983.6,646.4) scale(1.037,1)" x="0" y="0" class="ax">3.4<tspan dx="2.9">T</tspan></text>
<text transform="translate(1983.6,712.9) scale(1.037,1)" x="0" y="0" class="ax">3.2<tspan dx="2.9">T</tspan></text>
<text transform="translate(1983.6,779.4) scale(1.037,1)" x="0" y="0" class="ax">3<tspan dx="2.9">T</tspan></text>
<text transform="translate(1983.6,846.0) scale(1.037,1)" x="0" y="0" class="ax">2.8<tspan dx="2.9">T</tspan></text>
<text transform="translate(1983.6,912.5) scale(1.037,1)" x="0" y="0" class="ax">2.6<tspan dx="2.9">T</tspan></text>
<text transform="translate(1983.6,979.0) scale(1.037,1)" x="0" y="0" class="ax">2.4<tspan dx="2.9">T</tspan></text>
<text transform="translate(1983.6,1045.6) scale(1.037,1)" x="0" y="0" class="ax">2.2<tspan dx="2.9">T</tspan></text>
<text transform="translate(1983.6,1112.1) scale(1.037,1)" x="0" y="0" class="ax">2<tspan dx="2.9">T</tspan></text>
<text transform="translate(194.4,1200) scale(1.05,1)" x="0" y="0" class="ax" text-anchor="middle">Aug</text>
<text transform="translate(426,1200) scale(1.05,1)" x="0" y="0" class="ax" text-anchor="middle">Sep</text>
<text transform="translate(649.75,1200) scale(1.05,1)" x="0" y="0" class="ax" text-anchor="middle">Oct</text>
<text transform="translate(881.75,1200) scale(1.05,1)" x="0" y="0" class="ax" text-anchor="middle">Nov</text>
<text transform="translate(1105.25,1200) scale(1.05,1)" x="0" y="0" class="ax" text-anchor="middle">Dec</text>
<text transform="translate(1568.5,1200) scale(1.05,1)" x="0" y="0" class="ax" text-anchor="middle">Feb</text>
<text transform="translate(1777.5,1200) scale(1.05,1)" x="0" y="0" class="ax" text-anchor="middle">Mar</text>
<text x="1308.6" y="1200" class="ax" font-weight="bold" textLength="57.6" lengthAdjust="spacingAndGlyphs">2026</text>
<text x="1958.4" y="666.3" class="fib" text-anchor="end" fill="#7d808b">0</text>
<text x="1958.4" y="871.7" class="fib" text-anchor="end" fill="#4caf50">0.5</text>
<text x="1958.4" y="920" class="fib" text-anchor="end" fill="#0a9c8b">0.618</text>
<text x="1958.4" y="980.2" class="fib" text-anchor="end" fill="#56acee">0.764</text>
<text x="1958.4" y="1077.2" class="fib" text-anchor="end" fill="#7d808b">1</text>
<text x="1662.3" y="637" class="ma" fill="#f2de2c" stroke="#f2de2c" textLength="127" lengthAdjust="spacingAndGlyphs">MA(200)</text>
<text x="1590" y="773" class="ma" fill="#18c787" stroke="#18c787" textLength="109" lengthAdjust="spacingAndGlyphs">MA(50)</text>
</svg>
</body></html>
